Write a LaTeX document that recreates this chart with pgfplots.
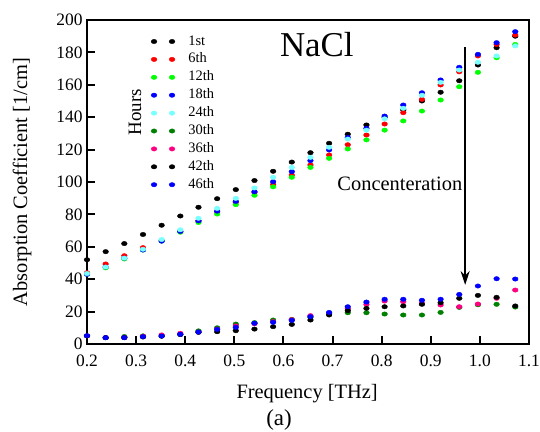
\documentclass[border=0pt]{standalone}
\usepackage{fontspec}
\setmainfont{Liberation Serif}
\usepackage{pgfplots}
\usepackage{pgfplotstable}
\usetikzlibrary{arrows.meta}
\pgfplotsset{compat=1.18}

\definecolor{hgreen}{RGB}{0,255,0}
\definecolor{hcyan}{RGB}{120,255,255}
\definecolor{hdkgreen}{RGB}{0,128,0}
\definecolor{hpink}{RGB}{255,0,128}

% upper group (1st-24th hour)
\pgfplotstableread{
x     h1    h6    h12   h18   h24
0.200 52.0  44.0  43.0  43.0  43.5
0.238 57.0  49.4  47.0  47.5  47.5
0.276 62.0  54.5  52.5  53.0  53.0
0.314 67.6  59.5  58.0  58.0  58.5
0.352 73.3  64.0  63.5  63.5  64.5
0.390 79.0  69.5  69.0  69.5  70.5
0.427 84.4  76.0  75.0  76.0  77.6
0.465 89.7  81.7  80.2  82.0  83.7
0.503 95.3  87.5  86.0  88.0  89.9
0.541 100.9 93.5  91.8  94.0  96.3
0.579 106.6 98.5  97.0  100.2 102.9
0.617 112.3 104.3 102.9 106.4 109.0
0.655 118.1 110.5 109.0 113.2 115.2
0.693 123.9 116.7 114.6 119.8 121.4
0.731 129.5 123.0 120.4 127.5 126.5
0.769 135.2 129.0 126.0 133.1 132.0
0.806 140.0 135.8 132.0 140.7 139.0
0.844 144.5 142.8 137.7 147.5 145.5
0.882 150.0 151.0 143.8 155.1 153.5
0.920 155.4 159.9 150.6 163.0 161.5
0.958 162.5 168.0 158.8 170.8 169.1
0.996 172.2 177.8 167.7 178.8 173.9
1.034 182.9 184.9 176.7 186.0 177.8
1.072 190.0 190.7 184.9 192.8 184.0
}\upperdata

% lower group (30th-46th hour)
\pgfplotstableread{
x     h30  h36  h42  h46
0.200 5.0  5.0  5.0  5.1
0.238 3.9  3.9  3.9  3.9
0.276 4.6  4.0  3.9  3.9
0.314 5.0  4.8  4.3  4.5
0.352 5.0  5.6  4.8  4.9
0.390 6.0  6.6  5.8  6.0
0.427 8.1  7.4  7.2  7.4
0.465 10.0 9.2  7.6  9.0
0.503 12.3 11.1 8.2  10.3
0.541 13.2 12.5 9.2  12.8
0.579 14.8 13.8 10.7 13.4
0.617 15.2 15.0 12.1 14.6
0.655 16.5 17.5 14.8 16.9
0.693 18.5 19.0 17.9 19.5
0.731 19.3 21.8 20.6 23.0
0.769 19.3 24.5 22.0 25.9
0.806 18.5 26.5 23.0 27.6
0.844 17.9 26.1 23.5 27.6
0.882 17.9 25.1 24.5 27.0
0.920 19.5 24.1 25.5 27.6
0.958 22.6 23.0 28.2 30.6
0.996 24.2 24.7 30.0 35.8
1.034 24.5 28.2 28.8 40.3
1.072 22.8 33.3 23.5 40.1
}\lowerdata

\begin{document}
\begin{tikzpicture}
\useasboundingbox (0,0) rectangle (540bp,432bp);
\begin{axis}[
  at={(87bp,88bp)}, anchor=south west,
  scale only axis,
  width=442bp, height=324bp,
  xmin=0.2, xmax=1.1,
  ymin=0, ymax=200,
  xtick={0.2,0.3,0.4,0.5,0.6,0.7,0.8,0.9,1.0,1.1},
  ytick={0,20,40,60,80,100,120,140,160,180,200},
  xticklabel style={yshift=-7bp,
    /pgf/number format/fixed,
    /pgf/number format/fixed zerofill,
    /pgf/number format/precision=1},
  yticklabel style={xshift=-1bp},
  /pgf/number format/assume math mode=true,
  tick label style={font=\fontsize{17.5}{20}\selectfont},
  tick pos=left,
  tick align=inside,
  major tick length=8bp,
  every tick/.style={black, line width=2bp},
  axis line style={line width=2.5bp},
  xlabel={Frequency [THz]},
  ylabel={Absorption Coefficient [1/cm]},
  every axis x label/.style={at={(axis description cs:0.498,-0.167)}, anchor=base,
    font=\fontsize{20.5}{24}\selectfont},
  every axis y label/.style={at={(axis description cs:-0.147,0.5)}, rotate=90, anchor=center,
    font=\fontsize{20.5}{24}\selectfont},
  legend style={at={(axis description cs:0.138,0.968)}, anchor=north west,
    draw=none, fill=none, row sep=0bp,
    /tikz/every odd column/.append style={column sep=11bp},
    nodes={font=\fontsize{14.5}{16}\selectfont, text height=10bp, text depth=3bp, inner sep=2.45bp}},
  legend cell align=left,
  legend image code/.code={\draw[only marks] plot coordinates {(0bp,0bp) (18bp,0bp)};},
  every axis plot/.append style={only marks, mark=*, mark size=2.2bp, mark options={xscale=1.3, draw=none}},
]
\addplot[color=black]  table[x=x,y=h1]  {\upperdata};
\addplot[color=red]    table[x=x,y=h6]  {\upperdata};
\addplot[color=hgreen] table[x=x,y=h12] {\upperdata};
\addplot[color=blue]   table[x=x,y=h18] {\upperdata};
\addplot[color=hcyan]  table[x=x,y=h24] {\upperdata};
\addplot[color=hdkgreen] table[x=x,y=h30] {\lowerdata};
\addplot[color=hpink]  table[x=x,y=h36] {\lowerdata};
\addplot[color=black]  table[x=x,y=h42] {\lowerdata};
\addplot[color=blue]   table[x=x,y=h46] {\lowerdata};
\legend{1st,6th,12th,18th,24th,30th,36th,42th,46th}

\node[rotate=90, font=\fontsize{19}{22}\selectfont] at (axis cs:0.2977,143.2) {Hours};
\node[anchor=base, font=\fontsize{35}{40}\selectfont] at (axis cs:0.668,177.2) {NaCl};
\node[anchor=base, font=\fontsize{20.5}{24}\selectfont] at (axis cs:0.837,95) {Concenteration};
\draw[line width=2.2bp, -{Stealth[length=14bp,width=9bp]}] (axis cs:0.97,183.3) -- (axis cs:0.97,36.4);
\end{axis}
\node[anchor=base, font=\fontsize{23}{26}\selectfont] at (279bp,7bp) {(a)};
\end{tikzpicture}
\end{document}
